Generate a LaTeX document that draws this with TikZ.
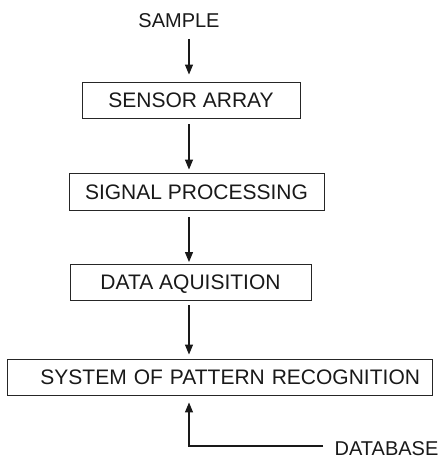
\documentclass[tikz,border=0pt]{standalone}
\usepackage{fontspec}
\setmainfont{Liberation Sans}
\usetikzlibrary{arrows.meta}
\begin{document}
\begin{tikzpicture}[x=1pt,y=-1pt,
  boxnode/.style={draw=black!85, line width=0.9pt, inner xsep=0pt, inner ysep=0pt,
    text height=15pt, text depth=0pt, text=black!90, font=\fontsize{21}{25}\selectfont},
  lbl/.style={inner sep=0pt, text height=14.4pt, text depth=0pt, text=black!90,
    font=\fontsize{20}{24}\selectfont},
  arr/.style={line width=1.2pt, draw=black!90, -{Triangle[length=10pt,width=8pt]}}]
\useasboundingbox (0,0) rectangle (447,458);
\node[lbl] (sample) at (179,20.5) {SAMPLE};
\node[boxnode, minimum width=218pt, minimum height=36pt] (sensor) at (191,100) {SENSOR ARRAY};
\node[boxnode, minimum width=255pt, minimum height=37pt] (signal) at (196.5,191.5) {SIGNAL PROCESSING};
\node[boxnode, minimum width=241pt, minimum height=36pt] (data) at (190.5,282) {DATA AQUISITION};
\node[boxnode, minimum width=425pt, minimum height=36pt, text width=401pt, align=right, inner xsep=12pt] (sys) at (219.5,377) {SYSTEM OF PATTERN RECOGNITION};
\node[lbl] (db) at (386.5,448) {DATABASE};
\coordinate (ax) at (189,0);
\coordinate (dbend) at (323,446);
\draw[arr, shorten <=11pt, shorten >=7pt] (sample.south -| ax) -- (sensor.north -| ax);
\draw[arr, shorten <=6pt, shorten >=3pt] (sensor.south -| ax) -- (signal.north -| ax);
\draw[arr, shorten <=7pt, shorten >=1.5pt] (signal.south -| ax) -- (data.north -| ax);
\draw[arr, shorten <=5pt, shorten >=4pt] (data.south -| ax) -- (sys.north -| ax);
\draw[arr, shorten >=7pt] (dbend) -| (sys.south -| ax);
\end{tikzpicture}
\end{document}
